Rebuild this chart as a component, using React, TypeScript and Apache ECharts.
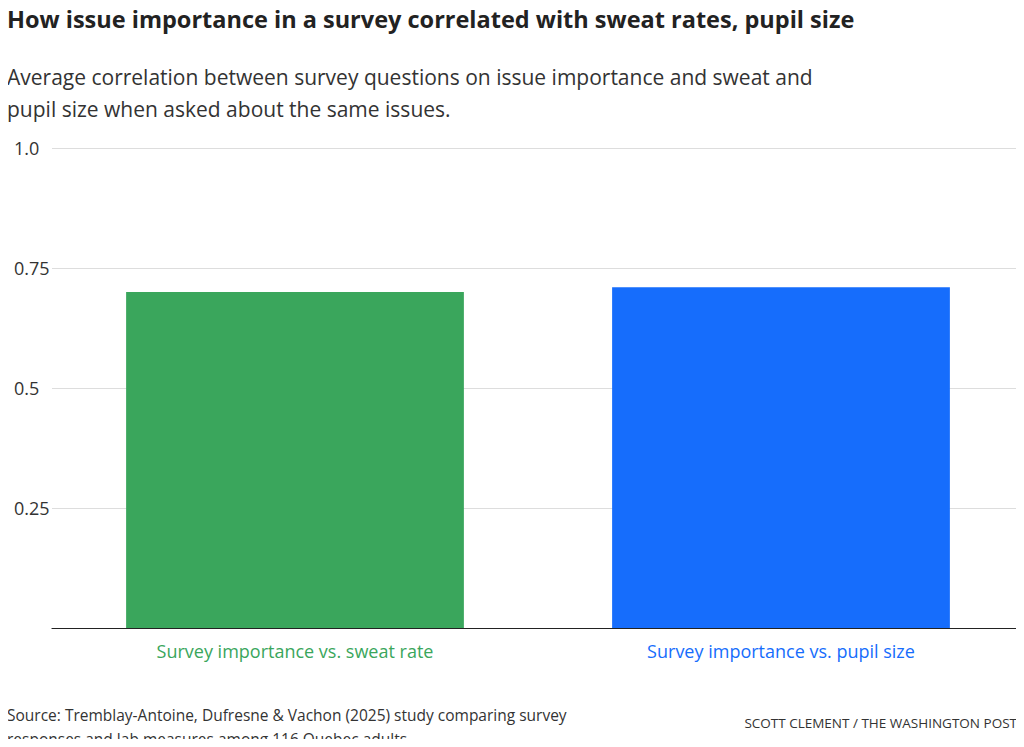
import { useEffect, useRef } from "react";
import * as echarts from "echarts";

const categories = ["Survey importance vs. sweat rate", "Survey importance vs. pupil size"];
const values = [0.7, 0.71];
const barColors = ["#3aa65c", "#166dfc"];
const tickLabels: Record<string, string> = { "0.25": "0.25", "0.5": "0.5", "0.75": "0.75", "1": "1.0" };

const font = "'Open Sans', Roboto, sans-serif";

export default function App() {
  const chartRef = useRef<HTMLDivElement>(null);

  useEffect(() => {
    if (!chartRef.current) return;
    const chart = echarts.init(chartRef.current, null, { renderer: "svg" });
    chart.setOption({
      animation: false,
      textStyle: { fontFamily: font },
      title: [
        {
          text: "How issue importance in a survey correlated with sweat rates, pupil size",
          left: 2, top: 2,
          textStyle: { fontSize: 23.5, fontWeight: "bold", color: "#222", fontFamily: font },
        },
        {
          text: "Average correlation between survey questions on issue importance and sweat and\npupil size when asked about the same issues.",
          left: 2, top: 56,
          textStyle: { fontSize: 21, fontWeight: "normal", color: "#333", lineHeight: 32, fontFamily: font },
        },
        {
          text: "Source: Tremblay-Antoine, Dufresne & Vachon (2025) study comparing survey\nresponses and lab measures among 116 Quebec adults.",
          left: 2, top: 698,
          textStyle: { fontSize: 15.5, fontWeight: "normal", color: "#333", lineHeight: 24, fontFamily: font },
        },
        {
          text: "SCOTT CLEMENT / THE WASHINGTON POST",
          right: 2, top: 711,
          textStyle: { fontSize: 13.5, fontWeight: "normal", color: "#333", fontFamily: font },
        },
      ],
      grid: { left: 52, right: 0, top: 148, bottom: 119 },
      xAxis: {
        type: "category",
        data: categories,
        axisTick: { show: false },
        axisLine: { lineStyle: { color: "#222", width: 1.2 } },
        axisLabel: {
          margin: 14,
          fontSize: 18,
          fontFamily: font,
          color: (_v: string, i: number) => barColors[i],
        },
      },
      yAxis: {
        type: "value",
        min: 0, max: 1, interval: 0.25,
        axisLine: { show: false },
        axisTick: { show: false },
        splitLine: { lineStyle: { color: "#ddd" } },
        axisLabel: {
          align: "left",
          margin: 38,
          fontSize: 18,
          color: "#333",
          fontFamily: font,
          formatter: (v: number) => tickLabels[String(v)] ?? "",
        },
      },
      series: [
        {
          type: "bar",
          barWidth: "69.5%",
          data: values.map((v, i) => ({ value: v, itemStyle: { color: barColors[i] } })),
        },
      ],
    });
    return () => chart.dispose();
  }, []);

  return <div ref={chartRef} style={{ width: 1024, height: 747, margin: -8 }} />;
}
